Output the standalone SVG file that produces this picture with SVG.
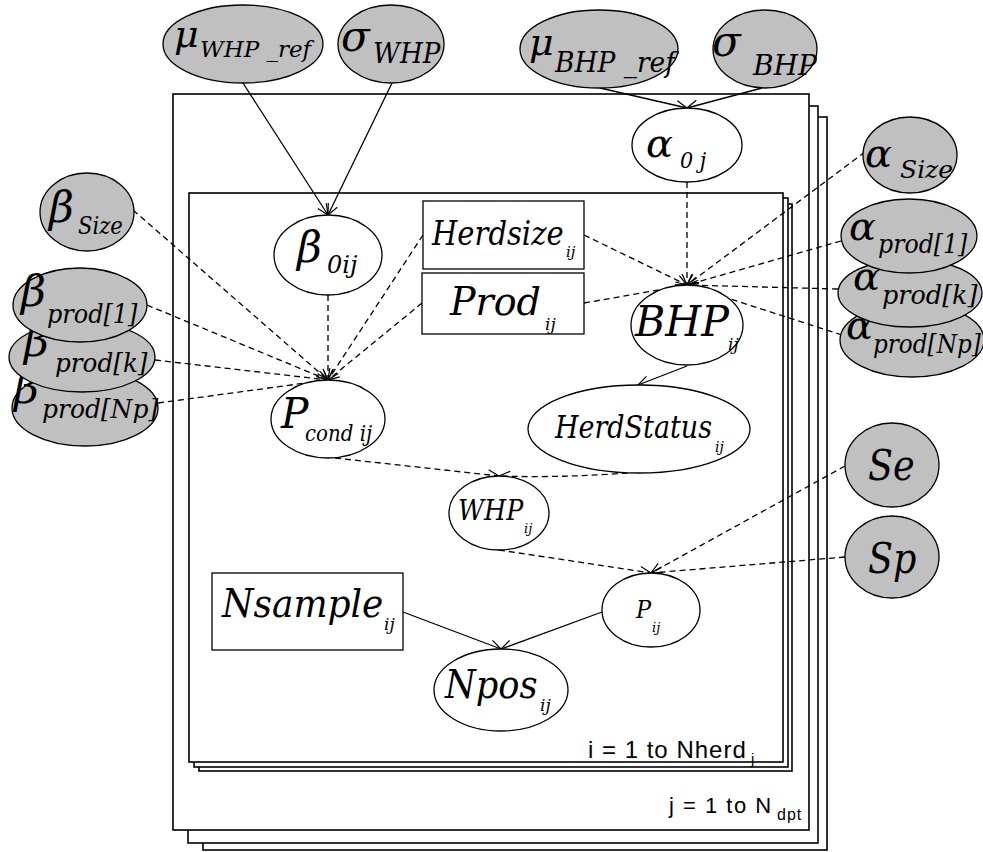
<svg xmlns="http://www.w3.org/2000/svg" width="983" height="852" viewBox="0 0 983 852">
<defs>
<style>
.g{fill:#c0c0c0;stroke:#000;stroke-width:1.3}
.w{fill:#fff;stroke:#000;stroke-width:1.3}
.pl{fill:#fff;stroke:#000;stroke-width:1.6}
.t{fill:#000;font-family:'DejaVu Serif',serif;font-style:italic}
.c{stroke:#000;stroke-width:1.3;fill:none;marker-end:url(#arr)}
.d{stroke-dasharray:6 4}
.lbl{fill:#000;font-family:'Liberation Sans',sans-serif}
</style>
<marker id="arr" markerUnits="userSpaceOnUse" markerWidth="14" markerHeight="14" viewBox="0 0 14 14" refX="12" refY="7" orient="auto">
<path d="M1,2 L12,7 L1,12" fill="none" stroke="#000" stroke-width="1.2"/>
</marker>
</defs>
<rect width="983" height="852" fill="#fff"/>

<g id="plates">
<rect class="pl" x="203" y="117" width="624" height="733"/>
<rect class="pl" x="188" y="106" width="630" height="737"/>
<rect class="pl" x="173" y="94" width="636" height="736"/>
<rect class="pl" x="199" y="204" width="593" height="567"/>
<rect class="pl" x="194" y="198" width="594" height="569"/>
<rect class="pl" x="189" y="193" width="594" height="569"/>
<text class="lbl" x="588" y="758" font-size="24" letter-spacing="1">i = 1 to Nherd</text>
<text class="lbl" x="751" y="764" font-size="15">j</text>
<text class="lbl" x="669" y="813" font-size="22" letter-spacing="1.5">j = 1 to N</text>
<text class="lbl" x="777" y="820" font-size="16" letter-spacing="1">dpt</text>
</g>

<g id="connectors">
<line class="c" x1="243" y1="83" x2="328" y2="215"/>
<line class="c" x1="392" y1="83" x2="328" y2="215"/>
<line class="c" x1="600" y1="88" x2="687" y2="108"/>
<line class="c" x1="762" y1="88" x2="687" y2="108"/>
<line class="c" x1="687" y1="366" x2="638" y2="385"/>
<line class="c" x1="403" y1="612" x2="501" y2="649"/>
<line class="c" x1="602" y1="612" x2="501" y2="649"/>
<line class="c d" x1="687" y1="182" x2="687" y2="285"/>
<line class="c d" x1="584" y1="235" x2="687" y2="285"/>
<line class="c d" x1="584" y1="303" x2="687" y2="285"/>
<line class="c d" x1="865" y1="152" x2="687" y2="285"/>
<line class="c d" x1="841" y1="241" x2="687" y2="285"/>
<line class="c d" x1="838" y1="289" x2="687" y2="285"/>
<line class="c d" x1="842" y1="335" x2="687" y2="285"/>
<line class="c d" x1="133" y1="210" x2="328" y2="380"/>
<line class="c d" x1="147" y1="305" x2="328" y2="380"/>
<line class="c d" x1="155" y1="360" x2="328" y2="380"/>
<line class="c d" x1="158" y1="403" x2="328" y2="380"/>
<line class="c d" x1="328" y1="295" x2="328" y2="380"/>
<line class="c d" x1="423" y1="235" x2="328" y2="380"/>
<line class="c d" x1="422" y1="303" x2="328" y2="380"/>
<line class="c d" x1="335" y1="458" x2="499" y2="476"/>
<path class="c d" d="M628,473 Q560,478 499,476"/>
<line class="c d" x1="499" y1="550" x2="651" y2="573"/>
<line class="c d" x1="845" y1="466" x2="651" y2="573"/>
<line class="c d" x1="845" y1="557" x2="651" y2="573"/>
</g>

<g id="mu_whp_ref"><ellipse class="g" cx="243" cy="44" rx="80" ry="39"/>
<text class="t" transform="translate(174,47)" font-size="38">μ</text>
<text class="t" transform="translate(200,57)" font-size="23">WHP _ref</text></g>
<g id="sigma_whp"><ellipse class="g" cx="391" cy="44" rx="53" ry="39"/>
<text class="t" transform="translate(341,51)" font-size="42">σ</text>
<text class="t" transform="translate(373,63) scale(0.97,1)" font-size="27">WHP</text></g>
<g id="mu_bhp_ref"><ellipse class="g" cx="599" cy="49" rx="79" ry="39"/>
<text class="t" transform="translate(529,55)" font-size="38">μ</text>
<text class="t" transform="translate(555,72) scale(0.98,1)" font-size="27">BHP _ref</text></g>
<g id="sigma_bhp"><ellipse class="g" cx="765" cy="49" rx="52" ry="39"/>
<text class="t" transform="translate(712,56)" font-size="42">σ</text>
<text class="t" transform="translate(753,75)" font-size="28">BHP</text></g>
<g id="alpha_0j"><ellipse class="w" cx="687" cy="145" rx="55" ry="37"/>
<text class="t" transform="translate(646,157)" font-size="40">α</text>
<text class="t" transform="translate(680,168) scale(0.9,1)" font-size="23">0 j</text></g>
<g id="alpha_size"><ellipse class="g" cx="910" cy="155" rx="47" ry="38"/>
<text class="t" transform="translate(865,167)" font-size="40">α</text>
<text class="t" transform="translate(900,178)" font-size="25">Size</text></g>
<g id="alpha_prod_np"><ellipse class="g" cx="912" cy="340" rx="72" ry="37"/>
<text class="t" transform="translate(846,339)" font-size="40">α</text>
<text class="t" transform="translate(873,353) scale(0.89,1)" font-size="26">prod[Np]</text></g>
<g id="alpha_prod_k"><ellipse class="g" cx="910" cy="293" rx="72" ry="34"/>
<text class="t" transform="translate(853,290)" font-size="40">α</text>
<text class="t" transform="translate(882,304) scale(0.98,1)" font-size="26">prod[k]</text></g>
<g id="alpha_prod_1"><ellipse class="g" cx="909" cy="236" rx="68" ry="37"/>
<text class="t" transform="translate(849,240)" font-size="40">α</text>
<text class="t" transform="translate(878,253) scale(0.91,1)" font-size="26">prod[1]</text></g>
<g id="beta_size"><ellipse class="g" cx="87" cy="212" rx="47" ry="39"/>
<text class="t" transform="translate(49,222)" font-size="43">β</text>
<text class="t" transform="translate(78,234) scale(0.88,1)" font-size="24">Size</text></g>
<g id="beta_prod_np"><ellipse class="g" cx="85" cy="408" rx="73" ry="38"/>
<text class="t" transform="translate(14,403)" font-size="43">β</text>
<text class="t" transform="translate(42,418) scale(0.96,1)" font-size="26">prod[Np]</text></g>
<g id="beta_prod_k"><ellipse class="g" cx="82" cy="357" rx="73" ry="35"/>
<text class="t" transform="translate(24,356)" font-size="43">β</text>
<text class="t" transform="translate(55,372) scale(0.95,1)" font-size="26">prod[k]</text></g>
<g id="beta_prod_1"><ellipse class="g" cx="80" cy="305" rx="67" ry="37"/>
<text class="t" transform="translate(21,306)" font-size="43">β</text>
<text class="t" transform="translate(47,323) scale(0.92,1)" font-size="26">prod[1]</text></g>
<g id="beta_0ij"><ellipse class="w" cx="328" cy="255" rx="54" ry="40"/>
<text class="t" transform="translate(297,262)" font-size="43">β</text>
<text class="t" transform="translate(327,273)" font-size="24">0ij</text></g>
<g id="p_cond"><ellipse class="w" cx="328" cy="419" rx="57" ry="39"/>
<text class="t" transform="translate(281,428) scale(0.95,1)" font-size="43">P</text>
<text class="t" transform="translate(305,441) scale(0.9,1)" font-size="22">cond ij</text></g>
<g id="herdsize"><rect class="w" x="423" y="201" width="161" height="68"/>
<text class="t" transform="translate(432,245) scale(0.88,1)" font-size="33">Herdsize</text>
<text class="t" transform="translate(566,257)" font-size="15">ij</text></g>
<g id="prod"><rect class="w" x="422" y="273" width="162" height="61"/>
<text class="t" transform="translate(450,315) scale(0.95,1)" font-size="40">Prod</text>
<text class="t" transform="translate(545,330)" font-size="17">ij</text></g>
<g id="bhp"><ellipse class="w" cx="687" cy="325" rx="56" ry="40"/>
<text class="t" transform="translate(635,336) scale(0.98,1)" font-size="42">BHP</text>
<text class="t" transform="translate(728,350)" font-size="17">ij</text></g>
<g id="herdstatus"><ellipse class="w" cx="639" cy="429" rx="111" ry="44"/>
<text class="t" transform="translate(555,438) scale(0.87,1)" font-size="31">HerdStatus</text>
<text class="t" transform="translate(715,452)" font-size="14">ij</text></g>
<g id="whp"><ellipse class="w" cx="499" cy="513" rx="50" ry="37"/>
<text class="t" transform="translate(458,520) scale(0.94,1)" font-size="27">WHP</text>
<text class="t" transform="translate(524,533)" font-size="13">ij</text></g>
<g id="p_ij"><ellipse class="w" cx="651" cy="610" rx="49" ry="37"/>
<text class="t" transform="translate(636,618) scale(0.9,1)" font-size="25">P</text>
<text class="t" transform="translate(652,632)" font-size="13">ij</text></g>
<g id="nsample"><rect class="w" x="212" y="573" width="191" height="77"/>
<text class="t" transform="translate(222,617) scale(0.9,1)" font-size="40">Nsample</text>
<text class="t" transform="translate(384,630)" font-size="17">ij</text></g>
<g id="npos"><ellipse class="w" cx="501" cy="690" rx="67" ry="41"/>
<text class="t" transform="translate(445,698) scale(0.88,1)" font-size="40">Npos</text>
<text class="t" transform="translate(540,711)" font-size="17">ij</text></g>
<g id="se"><ellipse class="g" cx="892" cy="465" rx="47" ry="42"/>
<text class="t" transform="translate(868,480) scale(0.87,1)" font-size="42">Se</text></g>
<g id="sp"><ellipse class="g" cx="892" cy="557" rx="47" ry="41"/>
<text class="t" transform="translate(868,573) scale(0.87,1)" font-size="42">Sp</text></g>
</svg>
